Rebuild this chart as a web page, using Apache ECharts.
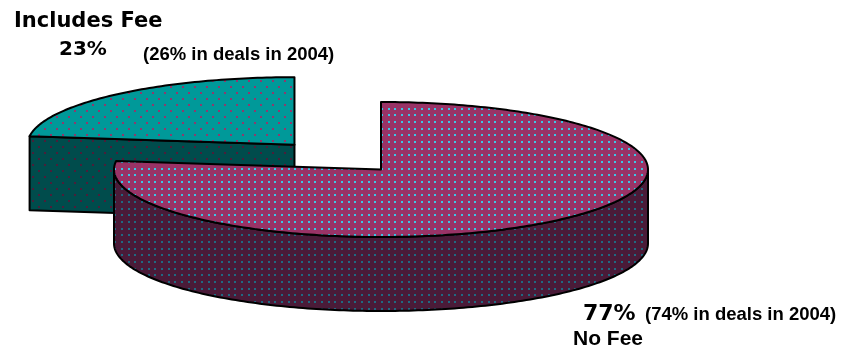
<!DOCTYPE html>
<html>
<head>
<meta charset="utf-8">
<script src="https://cdn.jsdelivr.net/npm/echarts@6/dist/echarts.min.js"></script>
<style>
  html, body { margin: 0; padding: 0; background: #ffffff; }
  #chart { width: 841px; height: 350px; }
</style>
</head>
<body>
<div id="chart"></div>
<script>
// Share of deals by fee arrangement (percent)
const categories = ['No Fee', 'Includes Fee'];
const shares = [77, 23];
const shares2004 = [74, 26];
const explodeFraction = [0, 0.49];

// 3D pie layout
const CX = 381, CY = 169.5, RX = 267, RY = 67.5, DEPTH = 74;

// small dotted tiles used as fill patterns
function dotTile(size, bg, dot, dots, dotSize) {
  const c = document.createElement('canvas');
  c.width = size; c.height = size;
  const g = c.getContext('2d');
  g.fillStyle = bg;
  g.fillRect(0, 0, size, size);
  g.fillStyle = dot;
  dots.forEach(([x, y]) => g.fillRect(x, y, dotSize, dotSize));
  return { image: c, repeat: 'repeat' };
}
const gridDots = [];
[1, 8, 14].forEach(y => [1, 8, 14].forEach(x => gridDots.push([x, y])));
const staggerDots = [[2, 2], [8, 8]];

const fills = [
  { top: dotTile(20, '#993366', '#3cc6e6', gridDots, 2),
    side: dotTile(20, '#4a1b38', '#1f6a82', gridDots, 2) },
  { top: dotTile(12, '#009999', '#8e3a6e', staggerDots, 2),
    side: dotTile(12, '#004c4c', '#4a1f3a', staggerDots, 2) }
];

const total = shares.reduce((a, b) => a + b, 0);
const starts = [];
shares.reduce((acc, v) => { starts.push(acc); return acc + v; }, 0);

const edge = { stroke: '#000000', lineWidth: 2, lineJoin: 'round' };

function renderItem(params, api) {
  const i = params.dataIndex;
  const value = api.value(0);
  const a0 = starts[i] / total * Math.PI * 2;
  const a1 = (starts[i] + value) / total * Math.PI * 2;
  const mid = (a0 + a1) / 2;
  const cx = CX + explodeFraction[i] * RX * Math.sin(mid);
  const cy = CY - explodeFraction[i] * RY * Math.cos(mid);
  const pt = (t, h) => [cx + RX * Math.sin(t), cy - RY * Math.cos(t) + h];
  const arc = (t0, t1, h) => {
    const n = Math.max(2, Math.ceil((t1 - t0) / (Math.PI / 180)));
    const out = [];
    for (let k = 0; k <= n; k++) out.push(pt(t0 + (t1 - t0) * k / n, h));
    return out;
  };
  const base = Math.round(cy * 10);
  const children = [];
  const fill = fills[i];

  // radial cut faces that face the viewer
  const cutFace = (t) => ({
    type: 'polygon', z2: base,
    shape: { points: [[cx, cy], pt(t, 0), pt(t, DEPTH), [cx, cy + DEPTH]] },
    style: Object.assign({ fill: fill.side }, edge)
  });
  if (Math.sin(a0) < -1e-6) children.push(cutFace(a0));
  if (Math.sin(a1) > 1e-6) children.push(cutFace(a1));

  // front rim
  const r0 = Math.max(a0, Math.PI / 2), r1 = Math.min(a1, Math.PI * 1.5);
  if (r1 > r0) {
    const topArc = arc(r0, r1, 0);
    const botArc = arc(r0, r1, DEPTH).reverse();
    children.push({
      type: 'polygon', z2: base + 1,
      shape: { points: topArc.concat(botArc) },
      style: Object.assign({ fill: fill.side }, edge)
    });
  }

  // top face
  children.push({
    type: 'polygon', z2: base + 2,
    shape: { points: [[cx, cy]].concat(arc(a0, a1, 0)) },
    style: Object.assign({ fill: fill.top }, edge)
  });

  return { type: 'group', children };
}

const boldVerdana = 'bold {s}px "DejaVu Sans", Verdana, sans-serif';
const boldArial = 'bold {s}px "Liberation Sans", Arial, sans-serif';
const f = (tpl, s) => tpl.replace('{s}', s);

function label(text, x, y, font) {
  return {
    type: 'text', x, y, silent: true,
    style: { text, font, fill: '#000000', align: 'left', verticalAlign: 'middle' }
  };
}

const chart = echarts.init(document.getElementById('chart'), null, { renderer: 'canvas' });
chart.setOption({
  backgroundColor: '#ffffff',
  animation: false,
  series: [{
    type: 'custom',
    coordinateSystem: 'none',
    silent: true,
    renderItem,
    data: categories.map((c, i) => ({ name: c, value: [shares[i]] }))
  }],
  graphic: [
    label(categories[1], 14, 22, f(boldVerdana, 21)),
    label(shares[1] + '%', 59, 50, f(boldVerdana, 20)),
    label('(' + shares2004[1] + '% in deals in 2004)', 143, 55, f(boldArial, 18.5)),
    label(shares[0] + '%', 583, 314, f(boldVerdana, 22)),
    label('(' + shares2004[0] + '% in deals in 2004)', 645, 315, f(boldArial, 18.5)),
    label(categories[0], 573, 339, f(boldArial, 21))
  ]
});
</script>
</body>
</html>
